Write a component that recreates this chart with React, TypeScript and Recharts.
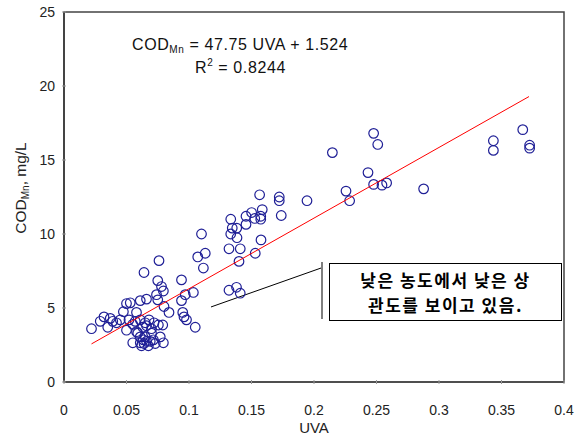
import React from 'react';
import { ScatterChart, Scatter, XAxis, YAxis, ReferenceLine, ReferenceArea } from 'recharts';

// UVA (x) and COD_Mn (y), one pair per circle
const uvaValues = [
  0.022, 0.029, 0.032, 0.035, 0.037, 0.039, 0.042, 0.045, 0.0475, 0.05,
  0.052, 0.053, 0.055, 0.057, 0.058, 0.061, 0.061, 0.063, 0.065, 0.066,
  0.066, 0.068, 0.07, 0.072, 0.0755, 0.079, 0.064, 0.074, 0.075, 0.075,
  0.076, 0.078, 0.0795, 0.08, 0.084, 0.094, 0.094, 0.097, 0.1035, 0.095,
  0.096, 0.098, 0.105, 0.107, 0.113, 0.1115, 0.11, 0.055, 0.061, 0.0635,
  0.066, 0.069, 0.061, 0.065, 0.0715, 0.077, 0.0795, 0.062, 0.0675, 0.064,
  0.059, 0.07, 0.073, 0.05, 0.058, 0.132, 0.138, 0.141, 0.14, 0.132,
  0.141, 0.153, 0.1334, 0.1346, 0.1382, 0.1384, 0.1576, 0.1456, 0.1334, 0.1456,
  0.1501, 0.1526, 0.1574, 0.1574, 0.1586, 0.1738, 0.1565, 0.1722, 0.1722, 0.1944,
  0.2147, 0.2256, 0.2285, 0.2432, 0.2477, 0.251, 0.2477, 0.2544, 0.2581, 0.2877,
  0.3435, 0.3435, 0.367, 0.3725, 0.3725,
];
const codValues = [
  3.6, 4.1, 4.4, 3.7, 4.3, 4.1, 4.0, 4.2, 4.75, 5.3,
  4.2, 5.35, 3.9, 4.1, 4.7, 5.5, 4.2, 3.7, 4.0, 5.6,
  3.8, 4.2, 3.6, 4.0, 3.85, 3.85, 7.4, 5.9, 5.55, 6.85,
  8.2, 6.45, 6.15, 5.1, 4.7, 6.9, 5.5, 5.9, 6.05, 4.7,
  4.4, 4.2, 3.7, 8.45, 8.7, 7.7, 10.0, 2.65, 2.65, 2.85,
  2.75, 2.75, 3.05, 3.05, 2.85, 3.05, 2.65, 2.45, 2.45, 2.6,
  3.3, 3.3, 2.6, 3.5, 3.4, 6.2, 6.4, 6.0, 8.15, 9.0,
  9.0, 8.7, 10.0, 10.4, 10.4, 9.75, 9.6, 10.65, 11.0, 11.2,
  11.45, 11.05, 11.2, 11.0, 11.65, 11.25, 12.65, 12.5, 12.25, 12.25,
  15.5, 12.9, 12.25, 14.15, 16.8, 16.05, 13.35, 13.3, 13.45, 13.05,
  16.3, 15.65, 17.05, 16.0, 15.8,
];

// regression: COD = 47.75 UVA + 1.524, drawn over the data range
const slope = 47.75;
const intercept = 1.524;
const fitRange = [0.022, 0.372];

const xTicks = [0, 0.05, 0.1, 0.15, 0.2, 0.25, 0.3, 0.35, 0.4];
const xTickLabels = ['0', '0.05', '0.1', '0.15', '0.2', '0.25', '0.3', '0.35', '0.4'];
const yTicks = [0, 5, 10, 15, 20, 25];

const points = uvaValues.map((x, i) => ({ x, y: codValues[i] }));
const fitLine = fitRange.map((x) => ({ x, y: slope * x + intercept }));

const FONT = "'Liberation Sans', Arial, sans-serif";
const AXIS = '#444';

function XTick({ x, y, payload }: any) {
  const i = xTicks.indexOf(payload.value);
  return (
    <g>
      <line x1={x} x2={x} y1={y} y2={y - 4} stroke="#999" />
      <text x={x} y={y + 31} textAnchor="middle" fontSize={14} fontFamily={FONT} fill="#222">
        {i >= 0 ? xTickLabels[i] : payload.value}
      </text>
    </g>
  );
}

function YTick({ x, y, payload }: any) {
  return (
    <g>
      <line x1={x} x2={x + 4} y1={y} y2={y} stroke="#999" />
      <text x={x - 7} y={y + 5} textAnchor="end" fontSize={14} fontFamily={FONT} fill="#222">
        {payload.value}
      </text>
    </g>
  );
}

const Circle = (props: any) => (
  <circle cx={props.cx} cy={props.cy} r={4.8} fill="none" stroke="#1f1f96" strokeWidth={1.2} />
);

export default function App() {
  return (
    <div style={{ position: 'absolute', left: 0, top: 0, width: 584, height: 442, background: '#fff' }}>
      <ScatterChart width={584} height={442} margin={{ top: 12, right: 20, bottom: 0, left: 0 }}>
        <XAxis
          type="number"
          dataKey="x"
          domain={[0, 0.4]}
          ticks={xTicks}
          tickSize={0}
          tick={<XTick />}
          axisLine={{ stroke: AXIS, strokeWidth: 1.5 }}
          height={60}
          allowDataOverflow
        />
        <YAxis
          type="number"
          dataKey="y"
          domain={[0, 25]}
          ticks={yTicks}
          tickSize={0}
          tick={<YTick />}
          axisLine={{ stroke: AXIS, strokeWidth: 2 }}
          width={64}
          allowDataOverflow
        />
        <ReferenceArea x1={0} x2={0.4} y1={0} y2={25} fill="none" stroke={AXIS} strokeWidth={1.5} />
        <Scatter data={points} shape={<Circle />} isAnimationActive={false} />
        <Scatter
          data={fitLine}
          line={{ stroke: '#ff0000', strokeWidth: 1 }}
          shape={() => <g />}
          isAnimationActive={false}
        />
        <ReferenceLine
          segment={[{ x: 0.1176, y: 5.07 }, { x: 0.2056, y: 7.7 }]}
          stroke="#000"
          strokeWidth={1}
        />
        <ReferenceLine
          segment={[{ x: 0.2064, y: 8.1 }, { x: 0.2064, y: 4.26 }]}
          stroke="#555"
          strokeWidth={1.5}
        />
      </ScatterChart>

      <div style={{ position: 'absolute', left: 132, top: 36, fontFamily: FONT, fontSize: 16, lineHeight: '18px', letterSpacing: 0.6, color: '#111', whiteSpace: 'nowrap' }}>
        COD<span style={{ fontSize: 10, position: 'relative', top: 3 }}>Mn</span> = 47.75 UVA + 1.524
      </div>
      <div style={{ position: 'absolute', left: 195, top: 59, fontFamily: FONT, fontSize: 16, lineHeight: '18px', letterSpacing: 0.6, color: '#111', whiteSpace: 'nowrap' }}>
        R<span style={{ fontSize: 10, position: 'relative', top: -7 }}>2</span> = 0.8244
      </div>

      <div
        style={{
          position: 'absolute',
          left: 21,
          top: 188,
          transform: 'translate(-50%, -50%) rotate(-90deg)',
          fontFamily: FONT,
          fontSize: 15.5,
          color: '#222',
          whiteSpace: 'nowrap',
        }}
      >
        COD<span style={{ fontSize: 10, position: 'relative', top: 3 }}>Mn</span>, mg/L
      </div>
      <div style={{ position: 'absolute', left: 314, top: 427, transform: 'translate(-50%, -50%)', fontFamily: FONT, fontSize: 15, color: '#222' }}>
        UVA
      </div>

      <div
        style={{
          position: 'absolute',
          left: 329,
          top: 263,
          width: 233,
          height: 58,
          boxSizing: 'border-box',
          border: '1.5px solid #000',
          background: '#fff',
          display: 'flex',
          flexDirection: 'column',
          alignItems: 'center',
          justifyContent: 'center',
          fontFamily: "'Noto Sans CJK KR', sans-serif",
          fontWeight: 700,
          fontSize: 17,
          letterSpacing: 1.5,
          lineHeight: '25px',
          color: '#000',
        }}
      >
        <div>낮은 농도에서 낮은 상</div>
        <div>관도를 보이고 있음.</div>
      </div>
    </div>
  );
}
